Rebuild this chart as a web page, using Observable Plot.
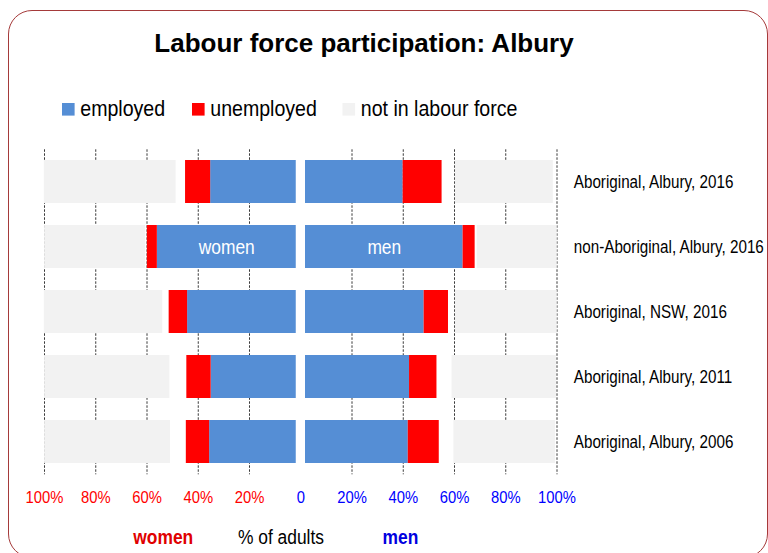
<!DOCTYPE html>
<html>
<head>
<meta charset="utf-8">
<script src="https://cdn.jsdelivr.net/npm/d3@7"></script>
<script src="https://cdn.jsdelivr.net/npm/@observablehq/plot@0.6"></script>
<style>
  body { margin: 0; background: #fff; overflow: hidden; }
  #wrap { position: relative; width: 768px; height: 553px; overflow: hidden; background: #fff; }
  #chart, #overlay { position: absolute; left: 0; top: 0; }
  #frame { position: absolute; left: 8px; top: 10px; width: 760px; height: 548px;
           border: 1.2px solid #a53a3a; border-radius: 24px; box-sizing: border-box; pointer-events: none; }
</style>
</head>
<body>
<div id="wrap">
  <div id="chart"></div>
  <svg id="overlay" width="768" height="553"></svg>
  <div id="frame"></div>
</div>
<script>
// ---- data (percent of adults) ----
const groups = [
  "Aboriginal, Albury, 2016",
  "non-Aboriginal, Albury, 2016",
  "Aboriginal, NSW, 2016",
  "Aboriginal, Albury, 2011",
  "Aboriginal, Albury, 2006"
];
const categories = ["employed", "unemployed", "not stated", "not in labour force"];

const womenEmployed    = [33.4, 54.2, 42.4, 33.2, 33.8];
const womenUnemployed  = [9.8, 3.9, 7.2, 9.5, 9.1];
const womenNotStated   = [3.7, 0.7, 2.5, 6.6, 6.2];
const womenNotInLF     = [51.4, 39.4, 46.2, 48.9, 49.1];

const menEmployed      = [38.1, 61.5, 46.3, 40.6, 40.1];
const menUnemployed    = [15.2, 4.7, 9.5, 10.7, 12.1];
const menNotStated     = [5.2, 0.8, 2.7, 5.9, 5.7];
const menNotInLF       = [38.2, 31.2, 39.7, 40.7, 39.7];

const womenTicks = [-100, -80, -60, -40, -20];
const menTicks   = [0, 20, 40, 60, 80, 100];
const gridTicks  = [-100, -80, -60, -40, -20, 20, 40, 60, 80, 100];

const legendItems = ["employed", "unemployed", "not in labour force"];

// ---- styling ----
const colors = ["#558ED5", "#FF0000", "transparent", "#F2F2F2"];
const SANS = '"Liberation Sans",Arial,Helvetica,sans-serif';
const CONDENSE = 0.87;

// ---- long table ----
const women = [], men = [];
groups.forEach((g, i) => {
  const w = [womenEmployed[i], womenUnemployed[i], womenNotStated[i], womenNotInLF[i]];
  const m = [menEmployed[i], menUnemployed[i], menNotStated[i], menNotInLF[i]];
  categories.forEach((c, j) => {
    women.push({group: g, sex: "women", category: c, value: -w[j]});
    men.push({group: g, sex: "men", category: c, value: m[j]});
  });
});

const womenLabel = women.filter(d => d.category === "employed" && d.group === groups[1]);
const menLabel = men.filter(d => d.category === "employed" && d.group === groups[1]);

const chart = Plot.plot({
  width: 768,
  height: 553,
  marginLeft: 44,
  marginRight: 211.5,
  marginTop: 149.3,
  marginBottom: 78.7,
  style: {background: "transparent", fontFamily: SANS, fontSize: "17px", color: "#000"},
  x: {domain: [-100, 100], label: null},
  y: {domain: groups, paddingInner: 0.34, paddingOuter: 0.17, label: null},
  color: {domain: categories, range: colors},
  marks: [
    Plot.gridX(gridTicks, {stroke: "#3a3a3a", strokeOpacity: 1, strokeDasharray: "2.5,1.5"}),
    Plot.barX(women, Plot.stackX({x: "value", y: "group", fill: "category", dx: -4.5})),
    Plot.barX(men, Plot.stackX({x: "value", y: "group", fill: "category", dx: 4.75})),
    Plot.text(womenLabel, Plot.stackX({x: "value", y: "group", text: d => d.sex, fill: "white",
      fontSize: 20, fontFamily: SANS, dx: -4.5, dy: 1})),
    Plot.text(menLabel, Plot.stackX({x: "value", y: "group", text: d => d.sex, fill: "white",
      fontSize: 20, fontFamily: SANS, dx: 4.75, dy: 1})),
    Plot.axisX(womenTicks, {tickSize: 0, tickPadding: 16, tickFormat: d => `${Math.abs(d)}%`,
      color: "#FF0000", fontSize: 17, fontFamily: SANS, label: null}),
    Plot.axisX(menTicks, {tickSize: 0, tickPadding: 16, tickFormat: d => d === 0 ? "0" : `${d}%`,
      color: "#0000FF", fontSize: 17, fontFamily: SANS, label: null}),
    Plot.axisY({anchor: "right", tickSize: 0, tickPadding: 16.8, fontSize: 17.5,
      fontFamily: SANS, color: "#000", label: null})
  ]
});
document.getElementById("chart").appendChild(chart);

// ---- title, legend, bottom labels ----
const ov = d3.select("#overlay");
ov.append("text").attr("class", "keep").attr("x", 364).attr("y", 52).attr("text-anchor", "middle")
  .attr("font-family", SANS).attr("font-weight", "bold").attr("font-size", 26)
  .text("Labour force participation: Albury");

const legendX = [62, 192, 342.5];
legendItems.forEach((name, i) => {
  const ci = categories.indexOf(name);
  ov.append("rect").attr("x", legendX[i]).attr("y", 103).attr("width", 12.6).attr("height", 12.6)
    .attr("fill", colors[ci]);
  ov.append("text").attr("x", legendX[i] + 18.3).attr("y", 116.5).attr("text-anchor", "start")
    .attr("font-family", SANS).attr("font-size", 22.5).attr("fill", "#000").text(name);
});

const foot = [
  {t: "women", x: 163.3, w: "bold", c: "#E00000"},
  {t: "% of adults", x: 281, w: "normal", c: "#000"},
  {t: "men", x: 400.5, w: "bold", c: "#0000E0"}
];
foot.forEach(f => {
  ov.append("text").attr("x", f.x).attr("y", 544).attr("text-anchor", "middle")
    .attr("font-family", SANS).attr("font-size", 20).attr("font-weight", f.w)
    .attr("fill", f.c).text(f.t);
});

// ---- horizontally condense text (narrow look of the original) ----
function condense(svg, k) {
  svg.querySelectorAll("text:not(.keep)").forEach(t => {
    const g = document.createElementNS("http://www.w3.org/2000/svg", "g");
    t.parentNode.insertBefore(g, t);
    g.appendChild(t);
    const b = g.getBBox();
    const a = getComputedStyle(t).textAnchor;
    const ax = a === "middle" ? b.x + b.width / 2 : a === "end" ? b.x + b.width : b.x;
    g.setAttribute("transform", `translate(${ax},0) scale(${k},1) translate(${-ax},0)`);
  });
}
condense(chart, CONDENSE);
condense(document.getElementById("overlay"), CONDENSE);
</script>
</body>
</html>
